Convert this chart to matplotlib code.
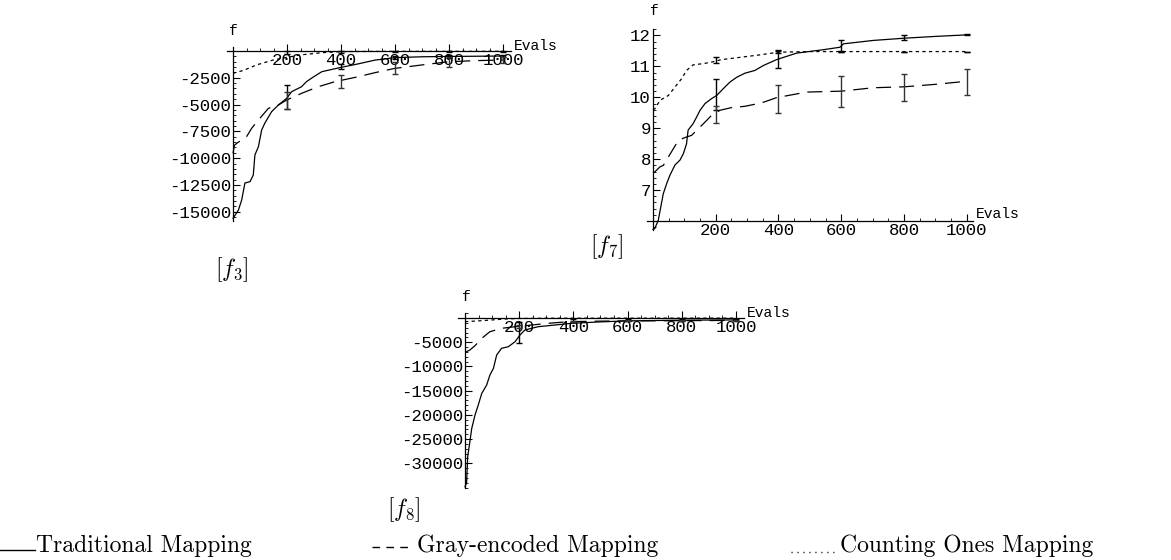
import matplotlib
matplotlib.use("Agg")
import matplotlib.pyplot as plt
from matplotlib.lines import Line2D
from matplotlib.ticker import MultipleLocator, FixedLocator

plt.rcParams['mathtext.fontset'] = 'cm'

# ---------------- data ----------------
# f3
f3_trad_x = [0, 20, 32, 44, 63, 75, 81, 94, 106, 118, 143, 168, 199, 217, 254, 272, 299, 329, 396, 464, 526, 600, 700, 800, 900, 1000]
f3_trad_y = [-15610, -14840, -13900, -12320, -12190, -11570, -9700, -8930, -7370, -6720, -5660, -5040, -4410, -3800, -3330, -2860, -2400, -1930, -1550, -1200, -850, -620, -540, -510, -490, -470]
f3_gray_x = [0, 5, 14, 32, 50, 69, 94, 131, 168, 199, 254, 316, 378, 464, 526, 600, 700, 800, 900, 1000]
f3_gray_y = [-9550, -8800, -8610, -8300, -8000, -7210, -6440, -5350, -5040, -4570, -3950, -3330, -2860, -2400, -2020, -1620, -1300, -1000, -900, -840]
f3_count_x = [0, 40, 87, 149, 248, 334, 400, 500, 1000]
f3_count_y = [-2080, -1800, -1300, -840, -370, -150, -60, -40, -30]
f3_err_x = [200, 400, 600, 800, 1000]
f3_trad_mean = [-4300, -1450, -620, -510, -470]
f3_trad_err = [1100, 200, 120, 150, 80]
f3_gray_mean = [-4600, -2850, -1620, -1000, -840]
f3_gray_err = [800, 650, 550, 450, 250]
f3_count_mean = [-150, -60, -40, -35, -30]
f3_count_err = [120, 100, 60, 40, 30]

# f7
f7_trad_x = [0, 6, 17, 22, 28, 33, 44, 54, 70, 86, 97, 107, 112, 128, 139, 150, 166, 187, 203, 224, 245, 267, 293, 325, 352, 394, 458, 543, 596, 607, 702, 798, 900, 1000]
f7_trad_y = [5.72, 5.76, 6.03, 6.3, 6.62, 6.89, 7.22, 7.48, 7.81, 7.97, 8.18, 8.5, 8.94, 9.15, 9.36, 9.58, 9.8, 9.96, 10.06, 10.28, 10.49, 10.65, 10.78, 10.87, 11.03, 11.22, 11.43, 11.54, 11.62, 11.73, 11.84, 11.91, 11.97, 12.02]
f7_gray_x = [0, 6, 22, 33, 49, 65, 81, 102, 123, 145, 166, 187, 213, 251, 293, 346, 394, 490, 601, 702, 800, 900, 1000]
f7_gray_y = [7.55, 7.59, 7.75, 7.8, 8.07, 8.34, 8.61, 8.7, 8.77, 8.99, 9.2, 9.42, 9.58, 9.67, 9.71, 9.82, 9.99, 10.17, 10.2, 10.31, 10.34, 10.42, 10.52]
f7_count_x = [0, 6, 22, 49, 70, 91, 107, 128, 160, 187, 219, 283, 346, 399, 500, 600, 800, 1000]
f7_count_y = [9.6, 9.63, 9.9, 10.06, 10.33, 10.6, 10.87, 11.05, 11.09, 11.14, 11.22, 11.3, 11.38, 11.46, 11.48, 11.48, 11.48, 11.48]
f7_err_x = [200, 400, 600, 800, 1000]
f7_trad_mean = [10.1, 11.23, 11.65, 11.92, 12.02]
f7_trad_err = [0.5, 0.27, 0.19, 0.08, 0.02]
f7_gray_mean = [9.45, 9.95, 10.2, 10.32, 10.5]
f7_gray_err = [0.27, 0.45, 0.5, 0.45, 0.43]
f7_count_mean = [11.2, 11.47, 11.48, 11.48, 11.48]
f7_count_err = [0.1, 0.05, 0.03, 0.0, 0.0]

# f8
f8_trad_x = [0, 6, 10, 18, 25, 37, 49, 62, 80, 92, 105, 117, 135, 160, 185, 203, 221, 270, 332, 393, 500, 600, 800, 1000]
f8_trad_y = [-34850, -34000, -28650, -25550, -22790, -20040, -17970, -15560, -13840, -11780, -10390, -7640, -6260, -5930, -4890, -3510, -2480, -1800, -1450, -1100, -800, -600, -450, -400]
f8_gray_x = [0, 6, 18, 37, 62, 92, 135, 185, 246, 308, 382, 500, 600, 800, 1000]
f8_gray_y = [-7000, -6960, -6610, -5720, -4200, -2830, -2130, -1800, -1450, -1100, -760, -650, -600, -550, -500]
f8_count_x = [0, 50, 100, 150, 200, 300, 1000]
f8_count_y = [-760, -600, -400, -200, -100, -50, -30]
f8_err_x = [200, 400, 600, 800, 1000]
f8_trad_mean = [-3000, -600, -450, -400, -380]
f8_trad_err = [2200, 300, 250, 200, 150]
f8_gray_mean = [-1700, -700, -600, -550, -500]
f8_gray_err = [300, 150, 100, 100, 100]

x_ticks = [200, 400, 600, 800, 1000]
f3_yticks = [-2500, -5000, -7500, -10000, -12500, -15000]
f7_yticks = [7, 8, 9, 10, 11, 12]
f8_yticks = [-5000, -10000, -15000, -20000, -25000, -30000]

legend_labels = ["Traditional Mapping", "Gray-encoded Mapping", "Counting Ones Mapping"]

# ---------------- figure ----------------
W, H = 1171, 560
fig = plt.figure(figsize=(W / 100, H / 100), dpi=100)
fig.patch.set_facecolor('white')

MONO = 'Liberation Mono'
LW = 0.9
DASH = (0, (12, 6.4))
DOT = (0, (2.6, 2.7))


def add_axes_px(left, top, right, bottom):
    return fig.add_axes([left / W, 1 - bottom / H, (right - left) / W, (bottom - top) / H])


def style_axes(ax, xlim, ylim, xorigin_y, yticks, yminor, ylabels):
    ax.set_xlim(*xlim)
    ax.set_ylim(*ylim)
    ax.patch.set_alpha(0)
    for s in ['top', 'right']:
        ax.spines[s].set_visible(False)
    ax.spines['left'].set_position(('data', 0))
    ax.spines['bottom'].set_position(('data', xorigin_y))
    for s in ['left', 'bottom']:
        ax.spines[s].set_linewidth(0.9)
    ax.xaxis.set_major_locator(FixedLocator(x_ticks))
    ax.xaxis.set_minor_locator(MultipleLocator(50))
    ax.yaxis.set_major_locator(FixedLocator(yticks))
    ax.yaxis.set_minor_locator(MultipleLocator(yminor))
    ax.set_xticklabels([str(t) for t in x_ticks], fontfamily=MONO, fontsize=12.5)
    ax.set_yticklabels(ylabels, fontfamily=MONO, fontsize=12.5)
    ax.tick_params(axis='both', which='major', direction='in', length=5, width=0.8, pad=1.5, color='black')
    ax.tick_params(axis='both', which='minor', direction='in', length=2.5, width=0.6, color='black')


def draw_series(ax, data):
    (tx, ty, gx, gy, cx, cy) = data
    ax.plot(tx, ty, color='black', lw=LW, solid_joinstyle='miter')
    ax.plot(gx, gy, color='black', lw=LW, linestyle=DASH)
    ax.plot(cx, cy, color='black', lw=LW, linestyle=DOT)


def draw_err(ax, x, mean, err, color='black'):
    ax.errorbar(x, mean, yerr=err, fmt='none', ecolor=color, elinewidth=1.0, capsize=2.4, capthick=1.0)


# f3 panel
ax3 = add_axes_px(227.1, 46.7, 511.1, 221.4)
style_axes(ax3, (-22, 1030), (-15900, 400), 0, f3_yticks, 500, [str(t) for t in f3_yticks])
draw_series(ax3, (f3_trad_x, f3_trad_y, f3_gray_x, f3_gray_y, f3_count_x, f3_count_y))
draw_err(ax3, f3_err_x, f3_trad_mean, f3_trad_err)
draw_err(ax3, f3_err_x, f3_gray_mean, f3_gray_err, '#333333')
draw_err(ax3, f3_err_x, f3_count_mean, f3_count_err)

# f7 panel
ax7 = add_axes_px(646.7, 29.3, 973.3, 230.0)
style_axes(ax7, (-20, 1021), (5.71, 12.2), 6, f7_yticks, 0.2, [str(t) for t in f7_yticks])
draw_series(ax7, (f7_trad_x, f7_trad_y, f7_gray_x, f7_gray_y, f7_count_x, f7_count_y))
draw_err(ax7, f7_err_x, f7_trad_mean, f7_trad_err)
draw_err(ax7, f7_err_x, f7_gray_mean, f7_gray_err, '#333333')
draw_err(ax7, f7_err_x, f7_count_mean, f7_count_err)

# f8 panel
ax8 = add_axes_px(458.2, 313.0, 744.1, 488.0)
style_axes(ax8, (-25, 1030), (-35100, 1030), 0, f8_yticks, 1000, [str(t) for t in f8_yticks])
draw_series(ax8, (f8_trad_x, f8_trad_y, f8_gray_x, f8_gray_y, f8_count_x, f8_count_y))
draw_err(ax8, f8_err_x, f8_trad_mean, f8_trad_err)
draw_err(ax8, f8_err_x, f8_gray_mean, f8_gray_err, '#333333')


def ftext(x, y, s, **kw):
    fig.text(x / W, 1 - y / H, s, **kw)


# axis labels
ftext(233, 31, 'f', fontfamily=MONO, fontsize=10.5, ha='center', va='center')
ftext(514, 46, 'Evals', fontfamily=MONO, fontsize=10.5, ha='left', va='center')
ftext(654, 11, 'f', fontfamily=MONO, fontsize=10.5, ha='center', va='center')
ftext(976, 214, 'Evals', fontfamily=MONO, fontsize=10.5, ha='left', va='center')
ftext(466, 297, 'f', fontfamily=MONO, fontsize=10.5, ha='center', va='center')
ftext(747, 313, 'Evals', fontfamily=MONO, fontsize=10.5, ha='left', va='center')

# panel labels
ftext(232, 270, r'$[f_3]$', fontsize=17, ha='center', va='center')
ftext(607, 247, r'$[f_7]$', fontsize=17, ha='center', va='center')
ftext(404, 510, r'$[f_8]$', fontsize=17, ha='center', va='center')

# legend
fig.add_artist(Line2D([0 / W, 35 / W], [1 - 550 / H, 1 - 550 / H], color='black', lw=1.0))
fig.add_artist(Line2D([372 / W, 410 / W], [1 - 547 / H, 1 - 547 / H], color='black', lw=1.0,
                      linestyle=(0, (5.5, 4.5))))
fig.add_artist(Line2D([791 / W, 834 / W], [1 - 552 / H, 1 - 552 / H], color='black', lw=1.0,
                      linestyle=(0, (0.8, 3.5))))
legend_x = [36, 417, 840]
for lx, lab in zip(legend_x, legend_labels):
    ftext(lx, 546, lab, fontfamily='cmr10', fontsize=17, ha='left', va='center')

fig.savefig('out.png', dpi=100, facecolor='white')
